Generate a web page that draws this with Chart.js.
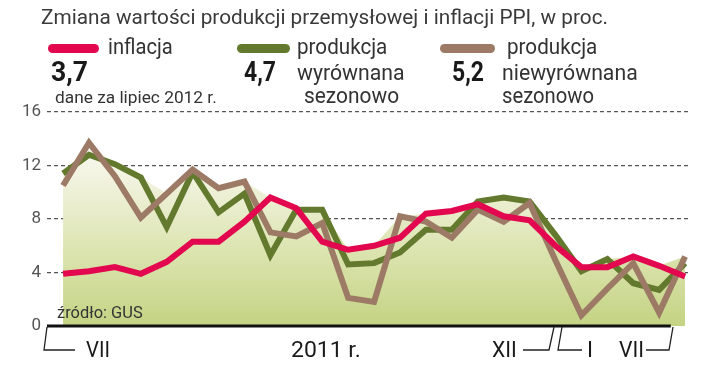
<!DOCTYPE html>
<html>
<head>
<meta charset="utf-8">
<script src="https://cdn.jsdelivr.net/npm/chart.js@4.4.1/dist/chart.umd.min.js"></script>
<style>
  html, body { margin: 0; padding: 0; background: #fff; }
  #wrap { position: relative; width: 720px; height: 374px; overflow: hidden; font-family: Roboto, "Open Sans", sans-serif; color: #333; }
  #wrap canvas { position: absolute; left: 0; top: 0; }
  .t { position: absolute; white-space: nowrap; line-height: 1; transform-origin: 0 0; }
  .b { font-weight: 700; color: #1a1a1a; }
  .pill { position: absolute; height: 9px; border-radius: 5px; }
</style>
</head>
<body>
<div id="wrap">
  <canvas id="chart" width="720" height="374"></canvas>

  <div class="t" data-w="567" style="left:41px;top:7px;font-size:21px;color:#3a3a3a">Zmiana wartości produkcji przemysłowej i inflacji PPI, w proc.</div>

  <div class="pill" style="left:48px;top:44px;width:51px;background:#e2074e"></div>
  <div class="t" data-w="65" style="left:108px;top:36px;font-size:22px">inflacja</div>
  <div class="pill" style="left:237px;top:44px;width:53px;background:#62792e"></div>
  <div class="t" data-w="90" style="left:297px;top:36px;font-size:22px">produkcja</div>
  <div class="pill" style="left:440px;top:44px;width:55px;background:#9c7a65"></div>
  <div class="t" data-w="90" style="left:507px;top:36px;font-size:22px">produkcja</div>

  <div class="t b" data-w="37" style="left:51px;top:58px;font-size:28px">3,7</div>
  <div class="t b" data-w="32" style="left:244px;top:58px;font-size:28px">4,7</div>
  <div class="t" data-w="108" style="left:297px;top:62px;font-size:22px">wyrównana</div>
  <div class="t b" data-w="32" style="left:452px;top:58px;font-size:28px">5,2</div>
  <div class="t" data-w="136" style="left:502px;top:62px;font-size:22px">niewyrównana</div>

  <div class="t" data-w="162" style="left:55px;top:90px;font-size:16px">dane za lipiec 2012 r.</div>
  <div class="t" data-w="95" style="left:304px;top:85px;font-size:22px">sezonowo</div>
  <div class="t" data-w="92" style="left:502px;top:85px;font-size:22px">sezonowo</div>

  <div class="t" data-w="86" style="left:57px;top:304px;font-size:17px">źródło: GUS</div>

  <div class="t" data-w="24" style="left:86px;top:339px;font-size:22px;color:#1a1a1a">VII</div>
  <div class="t" data-w="70" style="left:291px;top:339px;font-size:22px;color:#1a1a1a">2011 r.</div>
  <div class="t" data-w="25" style="left:492px;top:339px;font-size:22px;color:#1a1a1a">XII</div>
  <div class="t" style="left:587px;top:339px;font-size:22px;color:#1a1a1a">I</div>
  <div class="t" data-w="25" style="left:619px;top:339px;font-size:22px;color:#1a1a1a">VII</div>
</div>

<script>
// miesiace VII 2010 - VII 2012
const months = ['VII 2010', 'VIII 2010', 'IX 2010', 'X 2010', 'XI 2010', 'XII 2010',
  'I 2011', 'II 2011', 'III 2011', 'IV 2011', 'V 2011', 'VI 2011', 'VII 2011',
  'VIII 2011', 'IX 2011', 'X 2011', 'XI 2011', 'XII 2011',
  'I 2012', 'II 2012', 'III 2012', 'IV 2012', 'V 2012', 'VI 2012', 'VII 2012']

const inflation = [3.9, 4.1, 4.4, 3.9, 4.8, 6.3, 6.3, 7.8, 9.6, 8.8, 6.3, 5.7, 6.0,
  6.6, 8.4, 8.6, 9.1, 8.2, 7.9, 6.0, 4.4, 4.4, 5.2, 4.5, 3.7]
const prodSA = [11.4, 12.8, 12.1, 11.1, 7.4, 11.5, 8.5, 9.9, 5.3, 8.7, 8.7, 4.6, 4.7,
  5.5, 7.2, 7.2, 9.3, 9.6, 9.3, 6.8, 4.1, 5.0, 3.2, 2.7, 4.7]
const prodNSA = [10.5, 13.7, 11.2, 8.1, 9.9, 11.7, 10.3, 10.8, 7.0, 6.7, 7.7, 2.1, 1.8,
  8.2, 7.8, 6.6, 8.7, 7.8, 9.2, 4.9, 0.8, 2.8, 4.7, 1.0, 5.2]
const yTicks = [0, 4, 8, 12, 16]

// squeeze texts to the widths seen in the picture
document.querySelectorAll('.t[data-w]').forEach(function (el) {
  const w = parseFloat(el.dataset.w)
  el.style.transform = 'scaleX(' + (w / el.offsetWidth) + ')'
})

function pts(arr) {
  return arr.map(function (v, i) { return { x: i, y: v } })
}

// tlo pod liniami - gorna obwiednia wszystkich serii
const envelope = months.map(function (m, i) {
  return Math.max(inflation[i], prodSA[i], prodNSA[i])
})

function areaFill(c) {
  const a = c.chart.chartArea
  if (!a) return '#dfe6b8'
  const g = c.chart.ctx.createLinearGradient(0, a.top, 0, a.bottom)
  g.addColorStop(0, '#ffffff')
  g.addColorStop(0.3, '#f2f3e0')
  g.addColorStop(0.65, '#dce4b0')
  g.addColorStop(1, '#c4d383')
  return g
}

const decor = {
  id: 'decor',
  afterDraw(chart) {
    const ctx = chart.ctx
    const a = chart.chartArea
    const x = chart.scales.x
    ctx.save()
    // os zero
    ctx.strokeStyle = '#111'
    ctx.lineWidth = 3
    ctx.beginPath()
    ctx.moveTo(a.left, a.bottom)
    ctx.lineTo(x.getPixelForValue(23.45), a.bottom)
    ctx.stroke()
    // klamry pod osia
    ctx.lineWidth = 1.3
    ctx.strokeStyle = '#222'
    const yb = a.bottom + 24
    const brackets = [
      [[a.left, a.bottom + 1], [a.left - 3, yb], [75, yb]],
      [[523, yb], [549, yb], [554, a.bottom + 1]],
      [[562, a.bottom + 1], [558, yb], [582, yb]],
      [[646, yb], [669, yb], [673, a.bottom + 1]]
    ]
    brackets.forEach(function (b) {
      ctx.beginPath()
      ctx.moveTo(b[0][0], b[0][1])
      ctx.lineTo(b[1][0], b[1][1])
      ctx.lineTo(b[2][0], b[2][1])
      ctx.stroke()
    })
    ctx.restore()
  }
}

const chart = new Chart(document.getElementById('chart'), {
  type: 'line',
  data: {
    datasets: [{
      label: 'inflacja',
      data: pts(inflation),
      borderColor: '#e2074e',
      borderWidth: 6,
      order: 0
    }, {
      label: 'produkcja niewyrównana sezonowo',
      data: pts(prodNSA),
      borderColor: '#9c7a65',
      borderWidth: 6,
      order: 1
    }, {
      label: 'produkcja wyrównana sezonowo',
      data: pts(prodSA),
      borderColor: '#62792e',
      borderWidth: 6,
      order: 2
    }, {
      label: 'tlo',
      data: pts(envelope),
      borderWidth: 0,
      borderColor: 'rgba(0,0,0,0)',
      backgroundColor: areaFill,
      fill: 'origin',
      order: 3
    }]
  },
  options: {
    responsive: false,
    animation: false,
    layout: { padding: { top: 112, right: 30, left: 0, bottom: 0 } },
    elements: {
      point: { radius: 0 },
      line: { tension: 0, borderJoinStyle: 'miter', borderCapStyle: 'butt' }
    },
    plugins: { legend: { display: false }, tooltip: { enabled: false } },
    scales: {
      x: {
        type: 'linear',
        min: -0.62,
        max: 24.19,
        grid: { display: false },
        border: { display: false },
        ticks: { display: false },
        afterFit(s) { s.height = 48 }
      },
      y: {
        min: 0,
        max: 16,
        afterBuildTicks(s) { s.ticks = yTicks.map(function (v) { return { value: v } }) },
        ticks: { color: '#555', font: { family: 'Roboto', size: 17 }, padding: 6 },
        grid: {
          color: function (c) { return c.tick && c.tick.value === 0 ? 'rgba(0,0,0,0)' : '#555' },
          lineWidth: 1.3,
          drawTicks: false
        },
        border: { display: false, dash: [4, 3] },
        afterFit(s) { s.width = 47 }
      }
    }
  },
  plugins: [decor]
});
</script>
</body>
</html>
